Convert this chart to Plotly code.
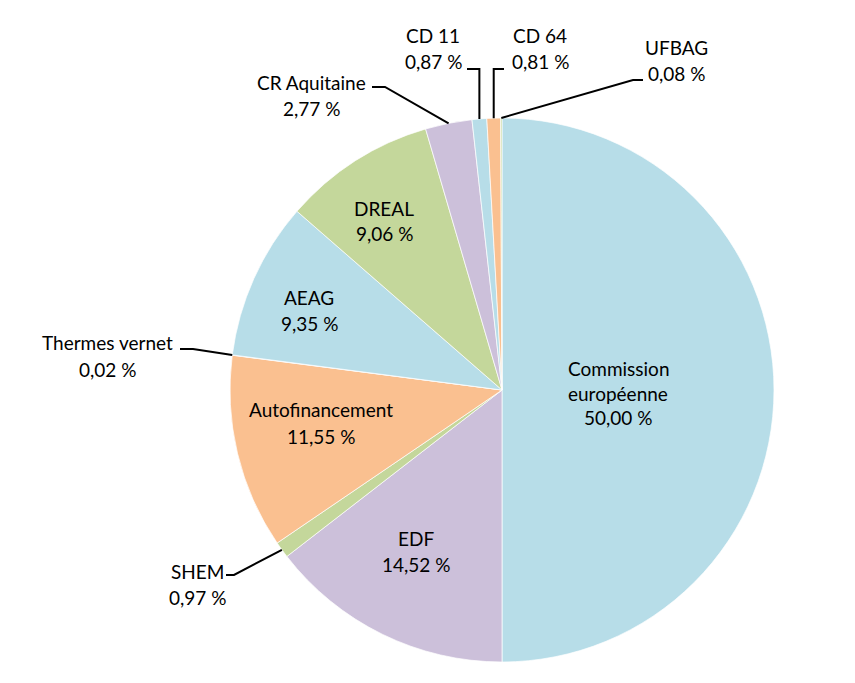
import math
import plotly.graph_objects as go

labels = ["Commission européenne", "EDF", "SHEM", "Autofinancement", "Thermes vernet",
          "AEAG", "DREAL", "CR Aquitaine", "CD 11", "CD 64", "UFBAG"]
display = ["Commission<br>européenne", "EDF", "SHEM", "Autofinancement", "Thermes vernet",
           "AEAG", "DREAL", "CR Aquitaine", "CD 11", "CD 64", "UFBAG"]
values = [50.00, 14.52, 0.97, 11.55, 0.02, 9.35, 9.06, 2.77, 0.87, 0.81, 0.08]
colors = ["#B7DDE8", "#CCC0DA", "#C4D79B", "#FAC090", "#CCC0DA",
          "#B7DDE8", "#C4D79B", "#CCC0DA", "#B7DDE8", "#FAC090", "#C4D79B"]
outside = ["SHEM", "Thermes vernet", "CR Aquitaine", "CD 11", "CD 64", "UFBAG"]

# Layout (page pixel coords of the reference); page has an 8px body margin
OFF = 8
W, H = 855 - OFF, 683 - OFF
CX, CY, R = 502, 390, 272
FONT = "Lato"
FS = 19
LINE = 26

# label text centres (page px)
label_pos = {
    "Commission européenne": (618, 393),
    "EDF": (416, 551),
    "Autofinancement": (321, 423),
    "AEAG": (309, 310),
    "DREAL": (384, 221),
    "CD 11": (433, 49),
    "CD 64": (540, 49),
    "UFBAG": (676, 61),
    "CR Aquitaine": (311, 95),
    "Thermes vernet": (107, 356),
    "SHEM": (197, 584),
}
# leader elbows: (elbow y, far end x near text, elbow x or "vertical")
leader = {
    "CD 11": (69, 467, "vertical"),
    "CD 64": (69, 504, "vertical"),
    "UFBAG": (80, 643, 633),
    "CR Aquitaine": (87, 372, 385),
    "Thermes vernet": (349, 180, 193),
    "SHEM": (575, 226, 234),
}


def fmt(v):
    return f"{v:.2f}".replace(".", ",") + " %"


def px(x):
    return (x - OFF) / W


def py(y):
    return 1 - (y - OFF) / H


fig = go.Figure(go.Pie(
    labels=labels, values=values, textinfo="none",
    sort=False, direction="clockwise", rotation=0,
    marker=dict(colors=colors, line=dict(color="white", width=0.7)),
    domain=dict(x=[px(CX - R), px(CX + R)], y=[py(CY + R), py(CY - R)]),
    showlegend=False, hoverinfo="label+percent",
))

annotations = []
shapes = []
total = sum(values)
cum = 0.0
for lab, d, v in zip(labels, display, values):
    mid = (cum + v / 2) / total * 2 * math.pi
    cum += v
    tx, ty = label_pos[lab]
    lines = d.split("<br>") + [fmt(v)]
    sp = LINE if len(lines) == 2 else 24.5
    y0 = ty - sp * (len(lines) - 1) / 2
    for i, ln in enumerate(lines):
        annotations.append(dict(
            x=px(tx), y=py(y0 + i * sp), xref="paper", yref="paper", showarrow=False,
            text=ln, font=dict(family=FONT, size=FS, color="#000000"),
            xanchor="center", yanchor="middle", align="center"))
    if lab not in outside:
        continue
    ex = CX + R * math.sin(mid)
    ey = CY - R * math.cos(mid)
    ly, far, el = leader[lab]
    if el == "vertical":
        pts = [(far, ly), (ex, ly), (ex, ey)]
    else:
        pts = [(far, ly), (el, ly), (ex, ey)]
    path = "M " + " L ".join(f"{px(x):.5f},{py(y):.5f}" for x, y in pts)
    shapes.append(dict(type="path", path=path, xref="paper", yref="paper",
                       line=dict(color="#000000", width=2)))

fig.update_layout(
    width=W, height=H, margin=dict(l=0, r=0, t=0, b=0),
    paper_bgcolor="white", plot_bgcolor="white",
    annotations=annotations, shapes=shapes,
    font=dict(family=FONT, size=FS, color="#000000"),
)
fig.write_html("out.html")
